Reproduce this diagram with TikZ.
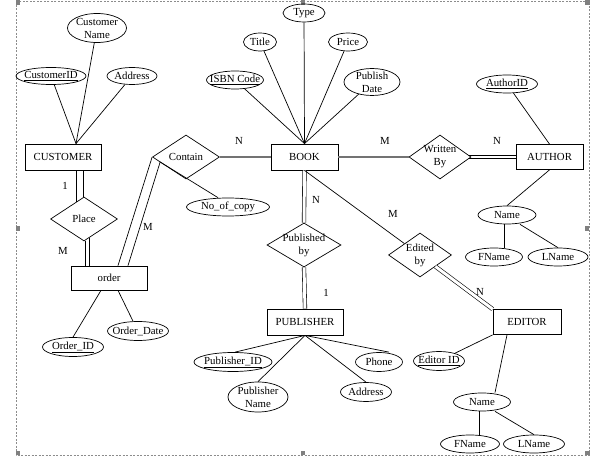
\documentclass[tikz,border=0pt]{standalone}
\usepackage{fontspec}
\setmainfont{Liberation Serif}
\usetikzlibrary{shapes.geometric}
\begin{document}
\begin{tikzpicture}[x=1pt,y=-1pt,
  every node/.style={font=\fontsize{10.8}{13}\selectfont},
  txt/.style={align=center,inner sep=0pt},
  attr/.style n args={3}{draw,ellipse,line width=0.7pt,inner sep=0pt,minimum width=#1pt,minimum height=#2pt,label={[txt]center:#3}},
  ent/.style 2 args={draw,rectangle,line width=0.8pt,inner sep=0pt,minimum width=#1pt,minimum height=#2pt},
  rel/.style n args={3}{draw,diamond,line width=0.7pt,inner sep=0pt,minimum width=#1pt,minimum height=#2pt,label={[txt]center:#3}},
  ln/.style={line width=0.7pt},
  dbl/.style={double,double distance=#1pt,line width=0.6pt},
  heavy/.style={line width=1.8pt,draw=black!55},
  card/.style={inner sep=0pt},
  handle/.style={fill=black!50,draw=none},
  frame/.style={draw=black!45,dash pattern=on 2pt off 1.5pt,line width=0.5pt}
]
\useasboundingbox (0,0) rectangle (598,462);
% selection frame
\draw[frame] (16,1.5) rectangle (589,455);
\fill[handle] (15.5,0.5) rectangle ++(4.5,4.5);
\fill[handle] (300.5,0.5) rectangle ++(4.5,4.5);
\fill[handle] (585,0.5) rectangle ++(4.5,4.5);
\fill[handle] (15.5,226.5) rectangle ++(4.5,4.5);
\fill[handle] (584.5,226.5) rectangle ++(4.5,4.5);
\fill[handle] (15.5,451) rectangle ++(4.5,4.5);
\fill[handle] (300.5,451) rectangle ++(4.5,4.5);
\fill[handle] (585,451) rectangle ++(4.5,4.5);

% CUSTOMER
\node[ent={76}{26}] (cust) at (63,157) {CUSTOMER};
\node[attr={59}{29}{Customer\\Name}] (cname) at (97,28) {};
\node[attr={70}{17}{\underline{CustomerID}}] (cid) at (51,76) {};
\node[attr={50}{17}{Address}] (caddr) at (132,76) {};
% BOOK
\node[ent={67}{26}] (book) at (304.5,157) {BOOK};
\node[attr={42}{18}{Type}] (type) at (304,13) {};
\node[attr={33}{18}{Title}] (title) at (260,42) {};
\node[attr={39}{18}{Price}] (price) at (348,42) {};
\node[attr={57}{18}{\underline{ISBN Code}}] (isbn) at (235,80) {};
\node[attr={56}{27}{Publish\\Date}] (pdate) at (372,82) {};
% Contain
\node[rel={67}{44}{Contain}] (contain) at (186,157) {};
\node[attr={83}{18}{No\_of\_copy}] (noc) at (228,207) {};
% Place / order
\node[rel={67}{44}{Place}] (place) at (84,219) {};
\node[ent={76}{24}] (order) at (109,278) {order};
\node[attr={61}{19}{\underline{Order\_ID}}] (oid) at (73,347) {};
\node[attr={61}{19}{Order\_Date}] (odate) at (138,331) {};
% AUTHOR
\node[rel={62}{44}{Written\\By}] (written) at (440,157) {};
\node[ent={67}{25}] (author) at (549.5,157) {AUTHOR};
\node[attr={61}{18}{\underline{AuthorID}}] (aid) at (507,84) {};
\node[attr={58}{18}{Name}] (aname) at (507,215) {};
\node[attr={57}{18}{FName}] (afn) at (494,257) {};
\node[attr={60}{18}{LName}] (aln) at (558,257) {};
% PUBLISHER
\node[rel={74}{44}{Published\\by}] (pubby) at (304,245) {};
\node[ent={76}{26}] (pub) at (305,322) {PUBLISHER};
\node[attr={78}{19}{\underline{Publisher\_ID}}] (pid) at (233,362) {};
\node[attr={60}{30}{Publisher\\Name}] (pname) at (258,397) {};
\node[attr={47}{19}{Phone}] (phone) at (379,362) {};
\node[attr={51}{19}{Address}] (paddr) at (366,392) {};
% EDITOR
\node[rel={63}{44}{Edited\\by}] (edby) at (420,255) {};
\node[ent={68}{25}] (editor) at (527,322) {EDITOR};
\node[attr={51}{19}{\underline{Editor ID}}] (eid) at (439,361) {};
\node[attr={57}{18}{Name}] (ename) at (482,402) {};
\node[attr={59}{18}{FName}] (efn) at (470,444) {};
\node[attr={61}{18}{LName}] (eln) at (534,444) {};

% cardinalities
\node[card] (cN1) at (239,141) {N};
\node[card] (cM1) at (385,141) {M};
\node[card] (cN2) at (497,141) {N};
\node[card] (c11) at (65,186) {1};
\node[card] (cM2) at (63,251) {M};
\node[card] (cM3) at (148,227) {M};
\node[card] (cN3) at (316,200) {N};
\node[card] (c12) at (326,293) {1};
\node[card] (cM4) at (393,214) {M};
\node[card] (cN4) at (480,292) {N};

% connectors: customer attributes
\draw[ln] (cid) -- ([xshift=13pt]cust.north);
\draw[ln] (cname) -- ([xshift=13pt]cust.north);
\draw[ln] (caddr) -- ([xshift=13pt]cust.north);
% book attributes
\draw[ln] (type) -- (book.north);
\draw[ln] (title) -- (book.north);
\draw[ln] (price) -- (book.north);
\draw[ln] (isbn) -- (book.north);
\draw[ln] (pdate) -- (book.north);
% relationships
\draw[heavy] (contain.east) -- (book.west);
\draw[heavy] (book.east) -- (written.west);
% Written By = AUTHOR (double)
\draw[ln] ([xshift=-2pt,yshift=1.6pt]written.east) -- ([yshift=1.6pt]author.west);
\draw[ln] ([xshift=-2pt,yshift=-1.6pt]written.east) -- ([yshift=-1.6pt]author.west);
% CUSTOMER = Place (double)
\draw[ln] ([xshift=13pt]cust.south) -- ([xshift=-8pt,yshift=-5.3pt]place.north);
\draw[ln] ([xshift=20pt]cust.south) -- ([xshift=-1pt,yshift=-0.7pt]place.north);
% Place = order (double)
\draw[ln] ([xshift=1pt,yshift=0.7pt]place.south) -- ([xshift=-24pt]order.north);
\draw[ln] ([xshift=5pt,yshift=3.3pt]place.south) -- ([xshift=-20pt]order.north);
% order = Contain (double)
\draw[ln] ([xshift=9pt]order.north) -- (contain.west);
\draw[ln] ([xshift=19pt]order.north) -- ([xshift=8pt,yshift=-5pt]contain.west);
\draw[ln] ([xshift=8pt,yshift=-5pt]contain.west) -- ([xshift=-10pt]noc.north);
\draw[ln] ([xshift=-8pt]order.south) -- (oid.north);
\draw[ln] ([xshift=9pt]order.south) -- ([xshift=-5pt]odate.north);
% author
\draw[ln] (aid) -- (author.north);
\draw[ln] (author.south) -- (aname.north);
\draw[ln] ([xshift=-3pt]aname.south) -- ([xshift=10pt]afn.north);
\draw[ln] ([xshift=13pt]aname.south) -- (aln.north);
% publisher
\draw[dbl=3] (book.south) -- (pubby.north);
\draw[dbl=3] (pubby.south) -- (pub.north);
\draw[ln] (pub.south) -- ([xshift=2pt]pid.north);
\draw[ln] (pub.south) -- (pname.north);
\draw[ln] (pub.south) -- (paddr.north);
\draw[ln] (pub.south) -- ([xshift=10pt]phone.north);
% editor
\draw[ln] (book.south) -- (edby);
\draw[dbl=3] (edby) -- (editor.north west);
\draw[ln] (editor.south west) -- (eid);
\draw[ln] ([xshift=-20pt]editor.south) -- ([xshift=13pt]ename.north);
\draw[ln] ([xshift=-3pt]ename.south) -- ([xshift=9pt]efn.north);
\draw[ln] ([xshift=13pt]ename.south) -- (eln.north);
\end{tikzpicture}
\end{document}
